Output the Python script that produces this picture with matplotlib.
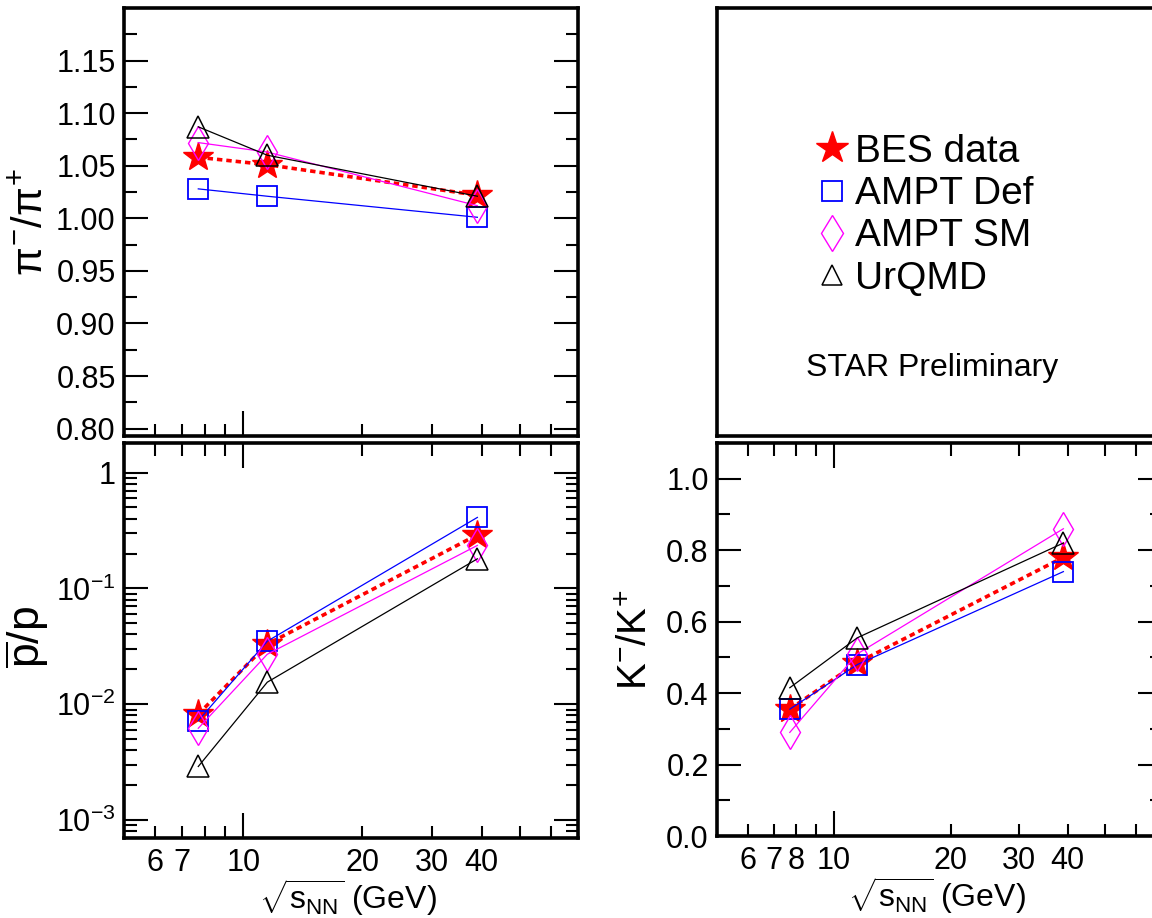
import matplotlib
matplotlib.use("Agg")
import matplotlib.pyplot as plt
from matplotlib.lines import Line2D

plt.rcParams['font.family'] = ['Liberation Sans', 'DejaVu Sans']
plt.rcParams['mathtext.fontset'] = 'custom'
plt.rcParams['mathtext.rm'] = 'Liberation Sans'
plt.rcParams['mathtext.it'] = 'Liberation Sans'
plt.rcParams['mathtext.bf'] = 'Liberation Sans:bold'

# beam energies (GeV)
energy = [7.7, 11.5, 39.0]

# pi-/pi+
pi_bes = [1.058, 1.051, 1.022]
pi_def = [1.028, 1.021, 1.001]
pi_sm = [1.072, 1.063, 1.012]
pi_urqmd = [1.087, 1.060, 1.021]

# pbar/p
pbar_bes = [0.0082, 0.033, 0.29]
pbar_def = [0.0072, 0.035, 0.41]
pbar_sm = [0.0062, 0.027, 0.235]
pbar_urqmd = [0.0029, 0.0155, 0.18]

# K-/K+
k_bes = [0.355, 0.485, 0.78]
k_def = [0.355, 0.48, 0.74]
k_sm = [0.29, 0.51, 0.86]
k_urqmd = [0.415, 0.555, 0.82]

labels = ["BES data", "AMPT Def", "AMPT SM", "UrQMD"]

xtick_left = [6, 7, 10, 20, 30, 40]
xtick_right = [6, 7, 8, 10, 20, 30, 40]
pi_ticks = [0.80, 0.85, 0.90, 0.95, 1.00, 1.05, 1.10, 1.15]
pbar_ticks = [1e-3, 1e-2, 1e-1, 1]
pbar_ticklabels = [r'$10^{-3}$', r'$10^{-2}$', r'$10^{-1}$', '1']
k_ticks = [0.0, 0.2, 0.4, 0.6, 0.8, 1.0]

W, H = 1152, 918
fig = plt.figure(figsize=(W / 100, H / 100), dpi=100)

ax_pi = fig.add_axes([124 / W, 1 - 436 / H, 454 / W, 428 / H])
ax_leg = fig.add_axes([717 / W, 1 - 436 / H, 445 / W, 428 / H])
ax_pbar = fig.add_axes([124 / W, 1 - 838 / H, 454 / W, 395 / H])
ax_k = fig.add_axes([717 / W, 1 - 836 / H, 445 / W, 393 / H])


def draw_series(ax, bes, dfl, sm, urq):
    ax.plot(energy, bes, color='red', ls=(0, (1.5, 1.1)), lw=2.6,
            marker='*', ms=22, mfc='red', mec='red', zorder=3)
    ax.plot(energy, dfl, color='blue', lw=0.9, marker='s', ms=15,
            mfc='none', mec='blue', mew=1.3, zorder=4)
    ax.plot(energy, sm, color='magenta', lw=0.9, marker='d', ms=17,
            mfc='none', mec='magenta', mew=1.0, zorder=4)
    ax.plot(energy, urq, color='black', lw=0.9, marker='^', ms=16,
            mfc='none', mec='black', mew=1.1, zorder=5)


def style_axis(ax, xlabels, top_ticks=True):
    ax.set_xscale('log')
    ax.set_xlim(5, 70)
    for s in ax.spines.values():
        s.set_linewidth(2.6)
    ax.set_xticks([10], labels=['10'])
    minor = [6, 7, 8, 9, 20, 30, 40, 50, 60]
    ax.set_xticks(minor, labels=[str(v) if v in xlabels else '' for v in minor],
                  minor=True)
    ax.tick_params(axis='x', which='both', direction='in', top=top_ticks,
                   bottom=True, labelsize=22, pad=7)
    ax.tick_params(axis='x', which='major', length=18, width=1.5)
    ax.tick_params(axis='x', which='minor', length=9, width=1.5)
    ax.tick_params(axis='y', which='both', direction='in', left=True,
                   right=True, labelsize=22, pad=6)
    ax.tick_params(axis='y', which='major', length=17, width=1.5)
    ax.tick_params(axis='y', which='minor', length=9, width=1.5)


# pi panel
draw_series(ax_pi, pi_bes, pi_def, pi_sm, pi_urqmd)
style_axis(ax_pi, [], top_ticks=False)
ax_pi.tick_params(axis='x', which='both', labelbottom=False)
ax_pi.set_ylim(0.793, 1.2)
ax_pi.set_yticks(pi_ticks, labels=['%.2f' % v for v in pi_ticks])
ax_pi.set_yticks([v + 0.025 for v in pi_ticks], minor=True)
ax_pi.set_ylabel(r'$\pi^{-}/\pi^{+}$', fontsize=30)
ax_pi.yaxis.set_label_coords(-0.16, 0.5)

# pbar/p panel
draw_series(ax_pbar, pbar_bes, pbar_def, pbar_sm, pbar_urqmd)
ax_pbar.set_yscale('log')
style_axis(ax_pbar, xtick_left)
ax_pbar.set_ylim(7e-4, 1.8)
ax_pbar.set_yticks(pbar_ticks, labels=pbar_ticklabels)
ax_pbar.set_yticks([m * d for d in [1e-4, 1e-3, 1e-2, 1e-1, 1]
                    for m in range(2, 10) if 7e-4 <= m * d <= 1.8],
                   minor=True)
ax_pbar.tick_params(axis='y', which='minor', labelleft=False)
ax_pbar.set_ylabel(r'$\overline{\mathrm{p}}/\mathrm{p}$', fontsize=32)
ax_pbar.yaxis.set_label_coords(-0.16, 0.51)
ax_pbar.set_xlabel(r'$\sqrt{s_{\mathrm{NN}}}$ (GeV)', fontsize=23)
ax_pbar.xaxis.set_label_coords(0.493, -0.1)

# K panel
draw_series(ax_k, k_bes, k_def, k_sm, k_urqmd)
style_axis(ax_k, xtick_right)
ax_k.set_ylim(0, 1.085)
ax_k.set_yticks(k_ticks, labels=['%.1f' % v for v in k_ticks])
ax_k.set_yticks([v + 0.1 for v in k_ticks], minor=True)
ax_k.set_ylabel(r'$\mathrm{K}^{-}/\mathrm{K}^{+}$', fontsize=29)
ax_k.yaxis.set_label_coords(-0.14, 0.5)
ax_k.set_xlabel(r'$\sqrt{s_{\mathrm{NN}}}$ (GeV)', fontsize=23)
ax_k.xaxis.set_label_coords(0.494, -0.1)

# legend panel
for s in ax_leg.spines.values():
    s.set_linewidth(2.6)
ax_leg.set_xticks([])
ax_leg.set_yticks([])
handles = [
    Line2D([], [], ls='none', marker='*', ms=24, mfc='red', mec='red'),
    Line2D([], [], ls='none', marker='s', ms=15, mfc='none', mec='blue', mew=1.3),
    Line2D([], [], ls='none', marker='d', ms=18, mfc='none', mec='magenta', mew=1.0),
    Line2D([], [], ls='none', marker='^', ms=15, mfc='none', mec='black', mew=1.1),
]
fig.legend(handles, labels, loc='upper left', bbox_to_anchor=(814 / W, 1 - 134 / H),
           frameon=False, fontsize=28, handlelength=0.9, handletextpad=0.15,
           labelspacing=0.16, borderpad=0, borderaxespad=0)
fig.text(932 / W, 1 - 368 / H, 'STAR Preliminary', fontsize=23,
         ha='center', va='center')

fig.savefig('out.png', dpi=100)
